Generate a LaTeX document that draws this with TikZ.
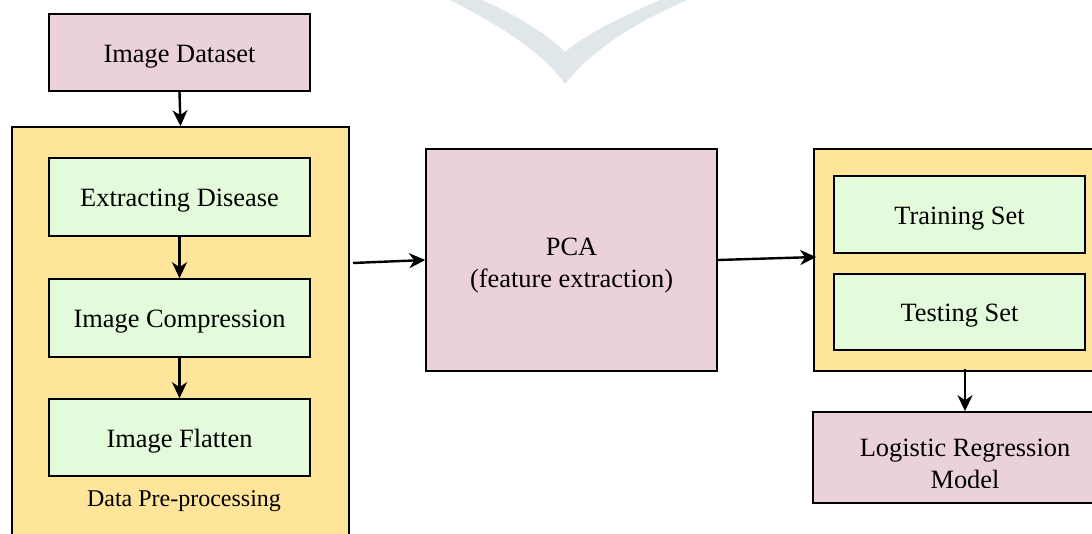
\documentclass[tikz,border=0pt]{standalone}
\usepackage{fontspec}
\setmainfont{Liberation Serif}
\usetikzlibrary{arrows.meta}
\definecolor{pinkbox}{HTML}{EAD1DC}
\definecolor{yellowbox}{HTML}{FFE599}
\definecolor{greenbox}{HTML}{E3FADB}
\definecolor{wmark}{HTML}{DFE7EA}
\tikzset{
  base/.style={draw=black, line width=0.8pt, inner sep=0pt, align=center,
    font=\fontsize{13.2}{16}\selectfont},
  pinkstep/.style={base, fill=pinkbox},
  greenstep/.style={base, fill=greenbox},
  yellowgroup/.style={base, fill=yellowbox},
  lowered/.style={yshift=-2pt},
  conn/.style={line width=1.2pt, -{Stealth[length=8pt,width=7.5pt,inset=2.5pt]}}
}
\begin{document}
\begin{tikzpicture}[x=0.5pt,y=-0.5pt]
\clip (0,0) rectangle (1092,534);
\fill[white] (0,0) rectangle (1092,534);
% watermark
\fill[wmark] (450,0) .. controls (505,28) and (545,55) .. (565,84)
  .. controls (590,52) and (630,25) .. (687,0)
  -- (660,0) .. controls (615,20) and (585,35) .. (565,52)
  .. controls (545,32) and (515,15) .. (482,0) -- cycle;
% left column
\node[pinkstep, minimum width=130.5pt, minimum height=38.5pt] (ds) at (179.5,52.5) {};
\node[base, draw=none, lowered] (dst) at (ds) {Image Dataset};
\node[yellowgroup, minimum width=168.5pt, minimum height=209pt] (pre) at (180.5,336) {};
\node[greenstep, minimum width=130.5pt, minimum height=39pt] (ed) at (179.5,197) {};
\node[base, draw=none, lowered] (edt) at (ed) {Extracting Disease};
\node[greenstep, minimum width=130.5pt, minimum height=39pt] (ic) at (179.5,318) {};
\node[base, draw=none, lowered] (ict) at (ic) {Image Compression};
\node[greenstep, minimum width=130.5pt, minimum height=38.5pt] (fl) at (179.5,437.5) {};
\node[base, draw=none, lowered] (flt) at (fl) {Image Flatten};
\node[font=\fontsize{12}{14}\selectfont, inner sep=0pt] (prelabel) at (184,501) {Data Pre-processing};
% middle
\node[pinkstep, minimum width=145.5pt, minimum height=111pt] (pca) at (571.5,260) {};
\node[base, draw=none, lowered] (pcat) at (571.5,262) {PCA\\(feature extraction)};
% right column
\node[yellowgroup, minimum width=143pt, minimum height=111pt] (tt) at (957,260) {};
\node[greenstep, minimum width=125.5pt, minimum height=38.5pt] (tr) at (959.5,214.5) {};
\node[base, draw=none, lowered] (trt) at (tr) {Training Set};
\node[greenstep, minimum width=125.5pt, minimum height=38pt] (ts) at (959.5,312) {};
\node[base, draw=none, lowered] (tst) at (ts) {Testing Set};
\node[pinkstep, minimum width=143.5pt, minimum height=45.5pt] (lr) at (956.5,457.5) {};
\begin{scope}
  \clip (813,412) rectangle (1092,487);
  \node[base, draw=none, font=\fontsize{13.2}{16}\selectfont] (lrt) at (965,464) {Logistic Regression\\Model};
\end{scope}
% connectors
\coordinate (preout) at (353,263);
\draw[conn] (ds.south) -- (pre.north);
\draw[conn] (ed.south) -- (ic.north);
\draw[conn] (ic.south) -- (fl.north);
\draw[conn] (preout) -- (pca.west);
\draw[conn] (pca.east) -- ([yshift=1.5pt,xshift=1.5pt]tt.west);
\draw[conn] ([xshift=4pt,yshift=1.5pt]tt.south) -- ([xshift=4pt]tt.south |- lr.north);
\end{tikzpicture}
\end{document}
